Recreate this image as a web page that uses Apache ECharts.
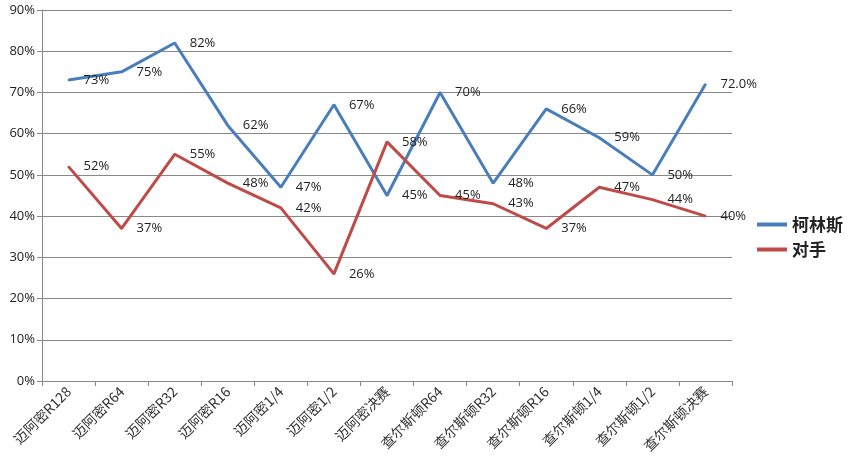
<!DOCTYPE html>
<html>
<head>
<meta charset="utf-8">
<script src="https://cdn.jsdelivr.net/npm/echarts@6/dist/echarts.min.js"></script>
<style>html,body{margin:0;padding:0;background:#fff;}#main{width:850px;height:475px;}</style>
</head>
<body>
<div id="main"></div>
<script>
var categories = ['迈阿密R128','迈阿密R64','迈阿密R32','迈阿密R16','迈阿密1/4','迈阿密1/2','迈阿密决赛','查尔斯顿R64','查尔斯顿R32','查尔斯顿R16','查尔斯顿1/4','查尔斯顿1/2','查尔斯顿决赛'];
var collins = [73,75,82,62,47,67,45,70,48,66,59,50,72];
var opponent = [52,37,55,48,42,26,58,45,43,37,47,44,40];
var yTicks = [0,10,20,30,40,50,60,70,80,90];

var chart = echarts.init(document.getElementById('main'));
function fmt(p){
  if (p.seriesIndex === 0 && p.dataIndex === collins.length - 1) return p.value.toFixed(1) + '%';
  return p.value + '%';
}
var labelStyle = {show:true, position:'right', distance:14, formatter:fmt, color:'#222', fontSize:13, fontFamily:'Open Sans, sans-serif'};
chart.setOption({
  animation:false,
  grid:{left:42, right:118, top:10, bottom:94},
  legend:{
    orient:'vertical', left:752, top:211, itemGap:8,
    itemWidth:30, itemHeight:4, icon:'rect',
    textStyle:{fontSize:17, color:'#222', fontWeight:'bold', fontFamily:'Noto Sans CJK SC'},
    data:['柯林斯','对手']
  },
  xAxis:{
    type:'category', data:categories, boundaryGap:true,
    axisLine:{lineStyle:{color:'#888', width:1}},
    axisTick:{show:true, alignWithLabel:false, length:5, lineStyle:{color:'#888'}},
    axisLabel:{rotate:45, interval:0, color:'#333', fontSize:14, fontFamily:'Noto Sans CJK SC', margin:8}
  },
  yAxis:{
    type:'value', min:0, max:90, interval:10,
    axisLine:{show:true, lineStyle:{color:'#888', width:1}},
    axisTick:{show:true, length:5, lineStyle:{color:'#888'}},
    splitLine:{lineStyle:{color:'#888', width:1}},
    axisLabel:{formatter:function(v){return v+'%';}, color:'#222', fontSize:13, fontFamily:'Open Sans, sans-serif', margin:7}
  },
  series:[
    {name:'柯林斯', type:'line', data:collins, symbol:'circle', symbolSize:2,
     lineStyle:{color:'#4A7EBB', width:3}, itemStyle:{color:'#4A7EBB'}, label:labelStyle},
    {name:'对手', type:'line', data:opponent, symbol:'circle', symbolSize:2,
     lineStyle:{color:'#BE4B48', width:3}, itemStyle:{color:'#BE4B48'}, label:labelStyle}
  ]
});
</script>
</body>
</html>
